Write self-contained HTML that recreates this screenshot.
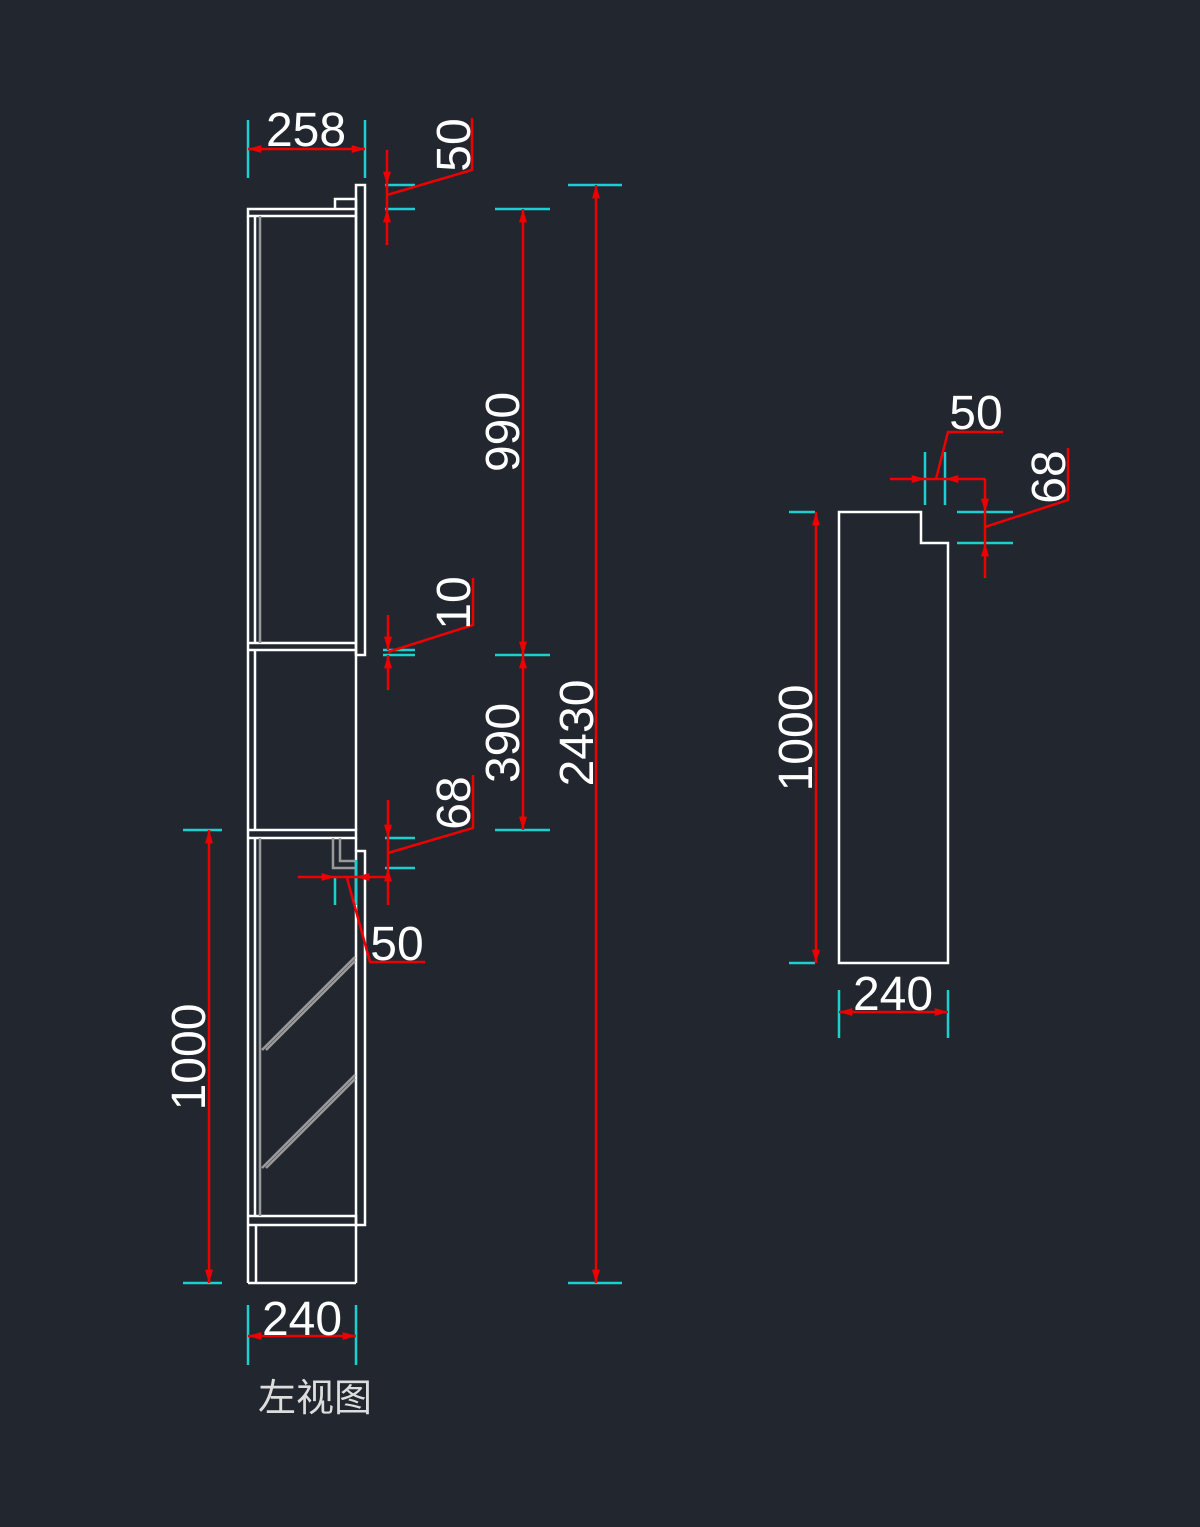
<!DOCTYPE html>
<html><head><meta charset="utf-8"><style>
html,body{margin:0;padding:0;background:#21262f;}
svg{display:block}
text{font-family:"Liberation Sans","Noto Sans CJK SC",sans-serif;fill:#fff;}
</style></head><body>
<svg width="1200" height="1527" viewBox="0 0 1200 1527" xmlns="http://www.w3.org/2000/svg">
<rect width="1200" height="1527" fill="#21262f"/>
<defs>
<marker id="a" viewBox="0 0 10 6" refX="10" refY="3" markerWidth="20" markerHeight="8" orient="auto-start-reverse" markerUnits="userSpaceOnUse"><path d="M0,0L10,3L0,6z" fill="#e00"/></marker>
</defs>
<g fill="none" stroke="#fff" stroke-width="2.5">
<path d="M248,209H356V216H248Z"/>
<path d="M335,209V199H356V209"/>
<path d="M356,185H365V655H356Z"/>
<line x1="248" y1="216" x2="248" y2="1283"/>
<line x1="255" y1="216" x2="255" y2="643"/>
<path d="M248,643H356V650H248"/>
<line x1="356" y1="216" x2="356" y2="643"/>
<line x1="356" y1="650" x2="356" y2="830"/>
<line x1="255" y1="650" x2="255" y2="830"/>
<path d="M248,830H356V838H248"/>
<line x1="255" y1="838" x2="255" y2="1216"/>
<path d="M356,851H365V1225H356Z"/>
<line x1="356" y1="838" x2="356" y2="851"/>
<path d="M248,1216H356V1225H248"/>
<line x1="256" y1="1225" x2="256" y2="1283"/>
<line x1="248" y1="1283" x2="356" y2="1283"/>
<line x1="356" y1="1225" x2="356" y2="1283"/>
<path d="M839,512H921V543H948V963H839Z"/>
</g>
<g fill="none" stroke="#999" stroke-width="2.5">
<line x1="260" y1="216" x2="260" y2="643"/>
<line x1="260" y1="838" x2="260" y2="1216"/>
<path d="M333,838V868H356M340,838V861H356"/>
<path d="M262,1050L355,957M266,1050L355,961"/>
<path d="M262,1168L355,1075M266,1168L355,1079"/>
</g>
<g stroke="#1ccfd0" stroke-width="2.5">
<line x1="248" y1="120" x2="248" y2="178"/><line x1="365" y1="120" x2="365" y2="178"/>
<line x1="385" y1="185" x2="415" y2="185"/><line x1="385" y1="209" x2="415" y2="209"/>
<line x1="495" y1="209" x2="550" y2="209"/><line x1="495" y1="655" x2="550" y2="655"/><line x1="495" y1="830" x2="550" y2="830"/>
<line x1="568" y1="185" x2="622" y2="185"/><line x1="568" y1="1283" x2="622" y2="1283"/>
<line x1="383" y1="650" x2="415" y2="650"/><line x1="383" y1="655" x2="415" y2="655"/>
<line x1="385" y1="838" x2="415" y2="838"/><line x1="385" y1="868" x2="415" y2="868"/>
<line x1="335" y1="878" x2="335" y2="905"/><line x1="356" y1="860" x2="356" y2="905"/>
<line x1="183" y1="830" x2="222" y2="830"/><line x1="183" y1="1283" x2="222" y2="1283"/>
<line x1="248" y1="1305" x2="248" y2="1365"/><line x1="356" y1="1305" x2="356" y2="1365"/>
<line x1="789" y1="512" x2="815" y2="512"/><line x1="789" y1="963" x2="815" y2="963"/>
<line x1="839" y1="990" x2="839" y2="1038"/><line x1="948" y1="990" x2="948" y2="1038"/>
<line x1="925" y1="452" x2="925" y2="505"/><line x1="945" y1="452" x2="945" y2="505"/>
<line x1="957" y1="512" x2="1013" y2="512"/><line x1="957" y1="543" x2="1013" y2="543"/>
</g>
<g stroke="#e00" stroke-width="2.5" fill="none">
<line x1="248" y1="149" x2="365" y2="149" marker-start="url(#a)" marker-end="url(#a)"/>
<line x1="387" y1="150" x2="387" y2="185" marker-end="url(#a)"/><line x1="387" y1="245" x2="387" y2="209" marker-end="url(#a)"/><line x1="387" y1="185" x2="387" y2="209"/>
<path d="M387,195L472,170V118"/>
<line x1="523" y1="209" x2="523" y2="655" marker-start="url(#a)" marker-end="url(#a)"/>
<line x1="523" y1="655" x2="523" y2="830" marker-start="url(#a)" marker-end="url(#a)"/>
<line x1="596" y1="185" x2="596" y2="1283" marker-start="url(#a)" marker-end="url(#a)"/>
<line x1="388" y1="615" x2="388" y2="650" marker-end="url(#a)"/><line x1="388" y1="690" x2="388" y2="655" marker-end="url(#a)"/>
<path d="M388,652L473,625V578"/>
<line x1="388" y1="800" x2="388" y2="838" marker-end="url(#a)"/><line x1="388" y1="905" x2="388" y2="868" marker-end="url(#a)"/><line x1="388" y1="838" x2="388" y2="868"/>
<path d="M388,853L473,828V775"/>
<line x1="298" y1="877" x2="335" y2="877" marker-end="url(#a)"/><line x1="390" y1="877" x2="356" y2="877" marker-end="url(#a)"/><line x1="335" y1="877" x2="356" y2="877"/>
<path d="M347,878L370,962H425"/>
<line x1="209" y1="830" x2="209" y2="1283" marker-start="url(#a)" marker-end="url(#a)"/>
<line x1="248" y1="1336" x2="356" y2="1336" marker-start="url(#a)" marker-end="url(#a)"/>
<line x1="816" y1="512" x2="816" y2="963" marker-start="url(#a)" marker-end="url(#a)"/>
<line x1="839" y1="1012" x2="948" y2="1012" marker-start="url(#a)" marker-end="url(#a)"/>
<line x1="890" y1="479" x2="925" y2="479" marker-end="url(#a)"/><line x1="985" y1="479" x2="945" y2="479" marker-end="url(#a)"/><line x1="925" y1="479" x2="945" y2="479"/>
<path d="M936,479L948,432H1003"/>
<line x1="985" y1="479" x2="985" y2="512" marker-end="url(#a)"/><line x1="985" y1="578" x2="985" y2="543" marker-end="url(#a)"/><line x1="985" y1="512" x2="985" y2="543"/>
<path d="M985,527L1068,500V448"/>
</g>
<g font-size="48">
<text x="306" y="146" text-anchor="middle">258</text>
<text transform="translate(470,145) rotate(-90)" text-anchor="middle">50</text>
<text transform="translate(519,432) rotate(-90)" text-anchor="middle">990</text>
<text transform="translate(519,743) rotate(-90)" text-anchor="middle">390</text>
<text transform="translate(593,733) rotate(-90)" text-anchor="middle">2430</text>
<text transform="translate(470,603) rotate(-90)" text-anchor="middle">10</text>
<text transform="translate(470,803) rotate(-90)" text-anchor="middle">68</text>
<text x="397" y="960" text-anchor="middle">50</text>
<text transform="translate(205,1057) rotate(-90)" text-anchor="middle">1000</text>
<text x="302" y="1335" text-anchor="middle">240</text>
<text transform="translate(812,738) rotate(-90)" text-anchor="middle">1000</text>
<text x="893" y="1010" text-anchor="middle">240</text>
<text x="976" y="429" text-anchor="middle">50</text>
<text transform="translate(1065,477) rotate(-90)" text-anchor="middle">68</text>
</g>
<text x="315" y="1411" font-size="38" text-anchor="middle" style="fill:#ddd">左视图</text>
</svg>
</body></html>
